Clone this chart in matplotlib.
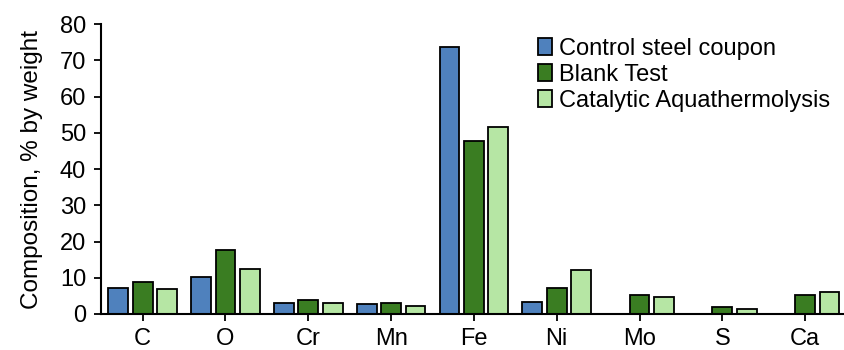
import matplotlib
matplotlib.use("Agg")
import matplotlib.pyplot as plt
import numpy as np

plt.rcParams["font.family"] = ["Liberation Sans", "DejaVu Sans"]

elements = ["C", "O", "Cr", "Mn", "Fe", "Ni", "Mo", "S", "Ca"]
control = [7.2, 10.2, 3.1, 2.7, 73.8, 3.3, 0, 0, 0]
blank = [8.7, 17.7, 3.9, 3.1, 47.7, 7.3, 5.1, 1.9, 5.1]
catalytic = [6.9, 12.4, 2.9, 2.3, 51.5, 12.2, 4.8, 1.4, 6.0]

series = [
    ("Control steel coupon", control, "#4F81BD"),
    ("Blank Test", blank, "#3A7D22"),
    ("Catalytic Aquathermolysis", catalytic, "#B6E6A4"),
]

fig = plt.figure(figsize=(8.44, 3.5), dpi=100)
ax = fig.add_axes([0.12, 0.103, 0.883, 0.828])

x = np.arange(len(elements))
pitch = 0.295
width = 0.24
for i, (label, vals, color) in enumerate(series):
    vals = np.array(vals, dtype=float)
    mask = vals > 0
    ax.bar(x[mask] + (i - 1) * pitch, vals[mask], width, color=color,
           edgecolor="black", linewidth=1.3, label=label)

ax.set_xlim(-0.5, len(elements) - 0.5)
ax.set_ylim(0, 80)
ax.set_yticks(range(0, 81, 10))
ax.set_xticks(x)
ax.set_xticklabels(elements)
ax.tick_params(axis="both", labelsize=17, width=1.3, length=5, direction="out")
ax.tick_params(axis="x", pad=5)
ax.tick_params(axis="y", pad=6)
ax.set_ylabel("Composition, % by weight", fontsize=17.5, labelpad=12)
for s in ["top", "right"]:
    ax.spines[s].set_visible(False)
for s in ["left", "bottom"]:
    ax.spines[s].set_linewidth(1.5)

ax.legend(loc="upper left", bbox_to_anchor=(0.573, 0.985), frameon=False,
          fontsize=17, handlelength=0.6, handleheight=0.7, handletextpad=0.3,
          labelspacing=0.17, borderaxespad=0)

fig.savefig("out.png", dpi=100)
